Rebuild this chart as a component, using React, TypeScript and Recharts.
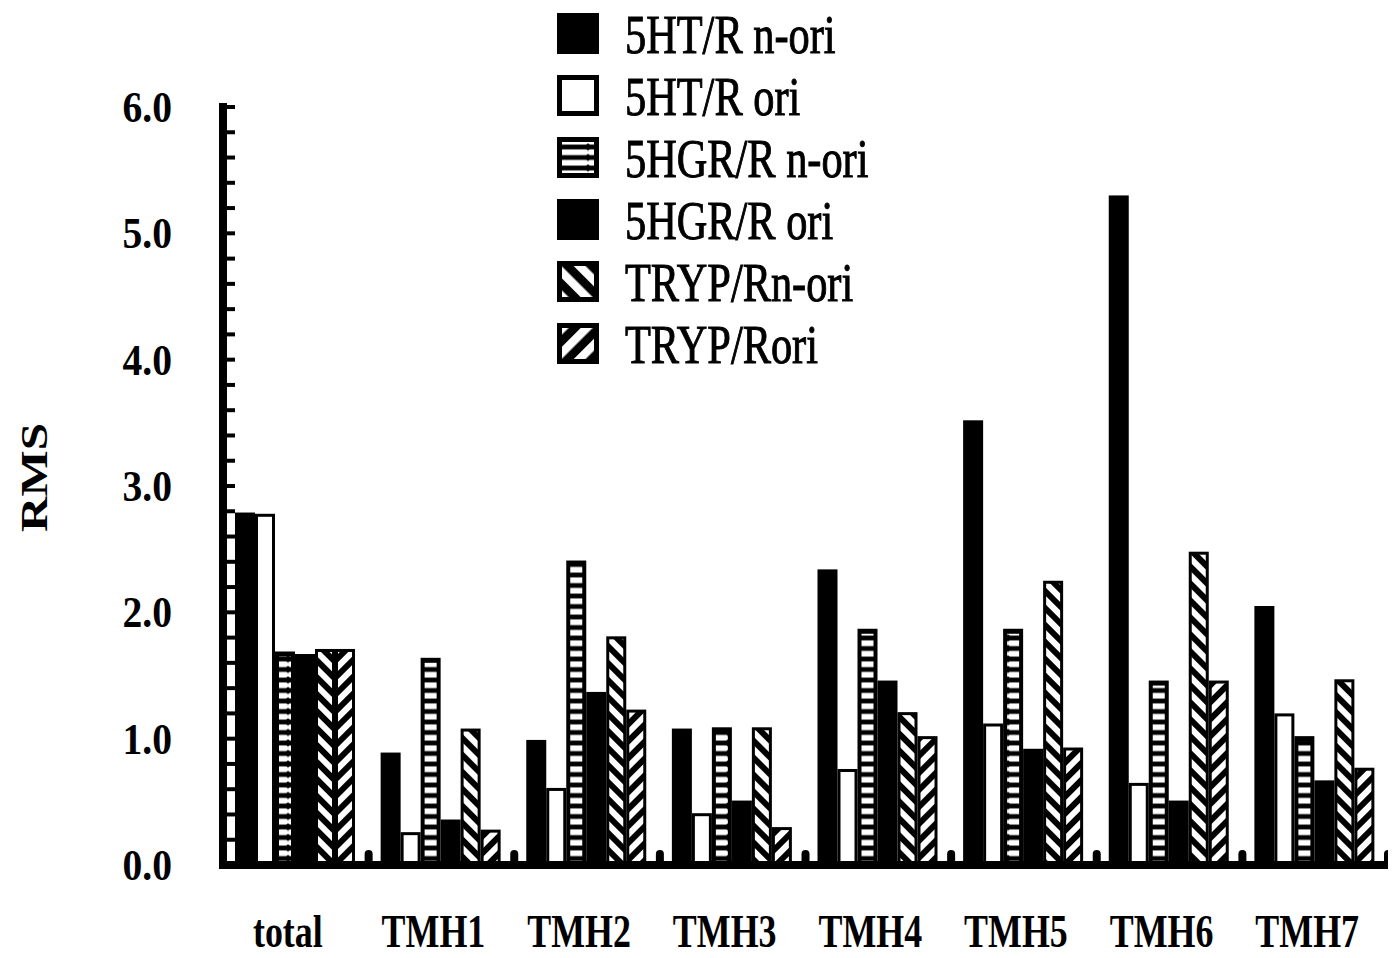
import { Bar, BarChart, XAxis, YAxis, Legend } from "recharts";

const categories = ["total", "TMH1", "TMH2", "TMH3", "TMH4", "TMH5", "TMH6", "TMH7"];
const htNori = [2.79, 0.89, 0.99, 1.08, 2.34, 3.52, 5.3, 2.05];
const htOri = [2.78, 0.26, 0.61, 0.41, 0.76, 1.12, 0.65, 1.2];
const hgrNori = [1.69, 1.64, 2.41, 1.09, 1.87, 1.87, 1.46, 1.02];
const hgrOri = [1.67, 0.36, 1.37, 0.51, 1.46, 0.92, 0.51, 0.67];
const trypNori = [1.71, 1.08, 1.81, 1.09, 1.21, 2.25, 2.48, 1.47];
const trypOri = [1.71, 0.28, 1.23, 0.3, 1.02, 0.93, 1.46, 0.77];

const yTicks = [
  0, 0.2, 0.4, 0.6, 0.8, 1, 1.2, 1.4, 1.6, 1.8, 2, 2.2, 2.4, 2.6, 2.8, 3, 3.2, 3.4, 3.6, 3.8, 4,
  4.2, 4.4, 4.6, 4.8, 5, 5.2, 5.4, 5.6, 5.8, 6,
];

const series = [
  { key: "htNori", name: "5HT/R n-ori", kind: "solid" },
  { key: "htOri", name: "5HT/R ori", kind: "white" },
  { key: "hgrNori", name: "5HGR/R n-ori", kind: "hstripe" },
  { key: "hgrOri", name: "5HGR/R ori", kind: "solid" },
  { key: "trypNori", name: "TRYP/Rn-ori", kind: "back" },
  { key: "trypOri", name: "TRYP/Rori", kind: "fwd" },
];

const values: Record<string, number[]> = { htNori, htOri, hgrNori, hgrOri, trypNori, trypOri };

const data = categories.map((cat, i) => {
  const row: Record<string, string | number> = { cat };
  series.forEach((s) => (row[s.key] = values[s.key][i]));
  return row;
});

const W = 1388;
const H = 950;
const LEFT = 215;
const RIGHT = 8;
const PLOT_W = W - LEFT - RIGHT;
const FONT = "'Liberation Serif', 'Times New Roman', serif";

function Patterns({ sfx = "", big = false }: { sfx?: string; big?: boolean }) {
  const p = big ? 17 : 12;
  return (
    <defs>
      <pattern id={"hs" + sfx} patternUnits="userSpaceOnUse" width={40} height={10.5}>
        <rect width={40} height={10.5} fill="#000" />
        <rect x={0} y={2.5} width={40} height={5.5} rx={2} fill="#fff" />
      </pattern>
      <pattern id={"back" + sfx} patternUnits="userSpaceOnUse" width={p} height={p} patternTransform="rotate(-45)">
        <rect width={p} height={p} fill="#000" />
        <rect width={p / 2} height={p} fill="#fff" />
      </pattern>
      <pattern id={"fwd" + sfx} patternUnits="userSpaceOnUse" width={p} height={p} patternTransform="rotate(45)">
        <rect width={p} height={p} fill="#000" />
        <rect width={p / 2} height={p} fill="#fff" />
      </pattern>
    </defs>
  );
}

function BarMark(props: any) {
  const { x, y, width, height, kind, sfx = "", boxed = false } = props;
  if (!width || !height || height <= 0) return null;
  if (kind === "solid") return <rect x={x} y={y} width={width} height={height} fill="#000" />;
  if (kind === "white") {
    const b = boxed ? 5 : 3;
    return (
      <rect
        x={x + b / 2}
        y={y + b / 2}
        width={width - b}
        height={height - (boxed ? b : b / 2)}
        fill="#fff"
        stroke="#000"
        strokeWidth={b}
      />
    );
  }
  const inX = kind === "hstripe" ? 4 : 3;
  const inY = kind === "hstripe" ? 5 : 3;
  const bx = boxed ? 5 : inX;
  const by = boxed ? 5 : inY;
  const fillId = kind === "hstripe" ? "hs" : kind;
  return (
    <g>
      <rect x={x} y={y} width={width} height={height} fill="#000" />
      <rect
        x={x + bx}
        y={y + by}
        width={Math.max(0, width - 2 * bx)}
        height={Math.max(0, height - by - (boxed ? by : 0))}
        fill={`url(#${fillId}${sfx})`}
      />
    </g>
  );
}

// legend svg starts at the very top of the page (chart top - 8)
function LegendBox() {
  return (
    <svg width={360} height={380} style={{ display: "block" }}>
      <Patterns sfx="-lg" big />
      {series.map((s, i) => (
        <g key={s.key}>
          <BarMark x={9} y={13 + 62 * i} width={42} height={41} kind={s.kind} sfx="-lg" boxed />
          <text
            transform={`translate(77,${53 + 62 * i}) scale(0.77,1)`}
            fontSize={55}
            fontFamily={FONT}
            fill="#000"
            stroke="#000"
            strokeWidth={1}
          >
            {s.name}
          </text>
        </g>
      ))}
    </svg>
  );
}

function YTick(props: any) {
  const { x, y, payload } = props;
  const v = Number(payload.value);
  const major = Math.abs(v - Math.round(v)) < 1e-6;
  return (
    <g>
      <line x1={x} x2={x + 12} y1={y} y2={y} stroke="#000" strokeWidth={4} />
      {major && (
        <text
          transform={`translate(${x - 51},${y + 15}) scale(0.9,1)`}
          textAnchor="end"
          fontSize={44}
          fontWeight="bold"
          fontFamily={FONT}
          fill="#000"
        >
          {v.toFixed(1)}
        </text>
      )}
    </g>
  );
}

function XTick(props: any) {
  const { x, y, payload } = props;
  const half =
    typeof payload.offset === "number" && payload.offset > 0 ? payload.offset : PLOT_W / categories.length / 2;
  const edge = x + half;
  return (
    <g>
      <path d={`M${edge - 4},${y} V${y - 11} a4,4 0 0 1 8,0 V${y} Z`} fill="#000" />
      <text
        transform={`translate(${x - 8},${y + 82}) scale(0.78,1)`}
        textAnchor="middle"
        fontSize={46}
        fontWeight="bold"
        fontFamily={FONT}
        fill="#000"
      >
        {payload.value}
      </text>
    </g>
  );
}

function RmsLabel(props: any) {
  const vb = props.viewBox || { x: 0, y: 99, width: LEFT, height: 758 };
  const cx = vb.x + 26.5;
  const cy = vb.y + vb.height / 2 - 8.5;
  return (
    <text
      transform={`translate(${cx},${cy}) scale(0.78,1) rotate(-90)`}
      textAnchor="middle"
      dominantBaseline="central"
      fontSize={49}
      fontWeight="bold"
      fontFamily={FONT}
      fill="#000"
    >
      RMS
    </text>
  );
}

export default function App() {
  return (
    <div style={{ width: W, height: H, background: "#fff" }}>
      <BarChart
        width={W}
        height={H}
        data={data}
        margin={{ top: 99, right: RIGHT, bottom: 0, left: 0 }}
        barGap={0}
        barCategoryGap={12}
      >
        <Patterns />
        <XAxis
          dataKey="cat"
          height={93}
          interval={0}
          tickLine={false}
          tickSize={0}
          tickMargin={0}
          axisLine={{ stroke: "#000", strokeWidth: 8, strokeLinecap: "square" }}
          tick={XTick}
        />
        <YAxis
          width={LEFT}
          domain={[0, 6]}
          ticks={yTicks}
          interval={0}
          allowDataOverflow
          tickLine={false}
          tickSize={0}
          tickMargin={0}
          axisLine={{ stroke: "#000", strokeWidth: 8, strokeLinecap: "square" }}
          tick={YTick}
          label={RmsLabel}
        />
        <Legend
          layout="vertical"
          verticalAlign="middle"
          align="center"
          wrapperStyle={{ top: -8, left: 540, width: 360 }}
          content={() => <LegendBox />}
        />
        {series.map((s) => (
          <Bar
            key={s.key}
            dataKey={s.key}
            name={s.name}
            fill="#000"
            isAnimationActive={false}
            shape={(p: any) => <BarMark {...p} kind={s.kind} />}
          />
        ))}
      </BarChart>
    </div>
  );
}
